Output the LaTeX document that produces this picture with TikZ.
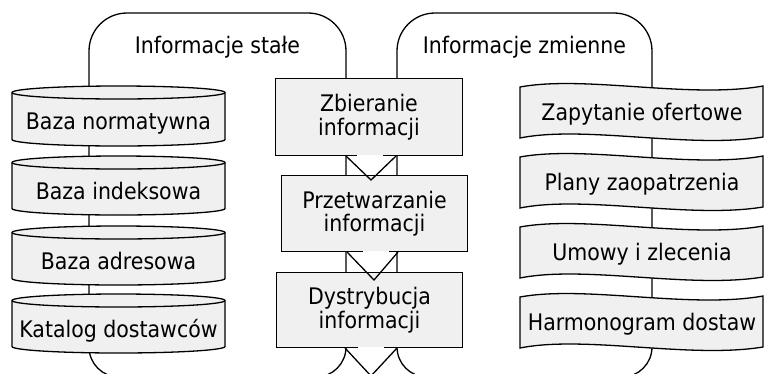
\documentclass[tikz,border=0pt]{standalone}
\usepackage{fontspec}
\setmainfont{DejaVu Sans Condensed}
\definecolor{boxgray}{HTML}{F0F0F0}
\begin{document}
\begin{tikzpicture}[x=1pt,y=1pt,line width=1.3pt,
  txt/.style={font=\fontsize{22.8}{23.5}\selectfont, inner sep=0pt, text=black},
  shapefill/.style={draw=black, fill=boxgray},
  procbox/.style={txt, align=center, fill=boxgray, draw=none}]
\useasboundingbox (0,0) rectangle (765,-373);
\clip (0,0) rectangle (765,-373);
% frames
\draw (89,-200) [rounded corners=38pt] |- (217,-13) -| (346,-200) [rounded corners=30pt] |- (217,-377) -| (89,-200);
\draw (397,-200) [rounded corners=38pt] |- (524,-13) -| (652,-200) [rounded corners=30pt] |- (524,-377) -| (397,-200);
\node[txt,anchor=base] (ts) at (217.5,-53) {Informacje stałe};
\node[txt,anchor=base] (tz) at (524.5,-53) {Informacje zmienne};
% cylinders
\foreach \cy/\cb/\cn/\cl in {86/146/c1/Baza normatywna, 156/215/c2/Baza indeksowa, 226/285/c3/Baza adresowa, 294/353/c4/Katalog dostawców}{
  \filldraw[shapefill] (12,{-\cy-6.5}) -- (12,{-\cb+6.5}) arc[start angle=180,end angle=360,x radius=106.5,y radius=6.5] -- (225,{-\cy-6.5}) arc[start angle=0,end angle=180,x radius=106.5,y radius=6.5] -- cycle;
  \draw (12,{-\cy-6.5}) arc[start angle=180,end angle=360,x radius=106.5,y radius=6.5];
  \node[txt,anchor=base] (\cn) at (118.5,{-\cy-43}) {\cl};
}
% tapes
\foreach \ty/\tn/\tl in {87/t1/Zapytanie ofertowe, 157/t2/Plany zaopatrzenia, 227/t3/Umowy i zlecenia, 297/t4/Harmonogram dostaw}{
  \filldraw[shapefill] (520,{-\ty}) .. controls (585,{-\ty+12}) and (690,{-\ty-12}) .. (763,{-\ty+1}) -- (763,{-\ty-50}) .. controls (690,{-\ty-62}) and (585,{-\ty-38}) .. (520,{-\ty-51}) -- cycle;
  \node[txt,anchor=base] (\tn) at (642,{-\ty-33}) {\tl};
}
% process boxes
\node[procbox, minimum width=186pt, minimum height=76pt] (p1) at (369,-117) {Zbieranie\\informacji};
\node[procbox, minimum width=185pt, minimum height=75pt] (p2) at (374.5,-213.5) {Przetwarzanie\\informacji};
\node[procbox, minimum width=185pt, minimum height=74pt] (p3) at (369.5,-310) {Dystrybucja\\informacji};
\draw ([xshift=-12pt]p1.south) -| (p1.north west) -| (p1.south east) -- ([xshift=14pt]p1.south);
\draw ([xshift=-12pt]p2.south) -| (p2.north west) -| (p2.south east) -- ([xshift=14pt]p2.south);
\draw ([xshift=-12pt]p3.south) -| (p3.north west) -| (p3.south east) -- ([xshift=14pt]p3.south);
% arrow heads
\draw (346,-156) -- (371,-180) -- (396,-156);
\draw (347,-252) -- (374,-280) -- (398,-252);
\draw (345,-348) -- (371,-376) -- (397,-348);
\end{tikzpicture}
\end{document}
